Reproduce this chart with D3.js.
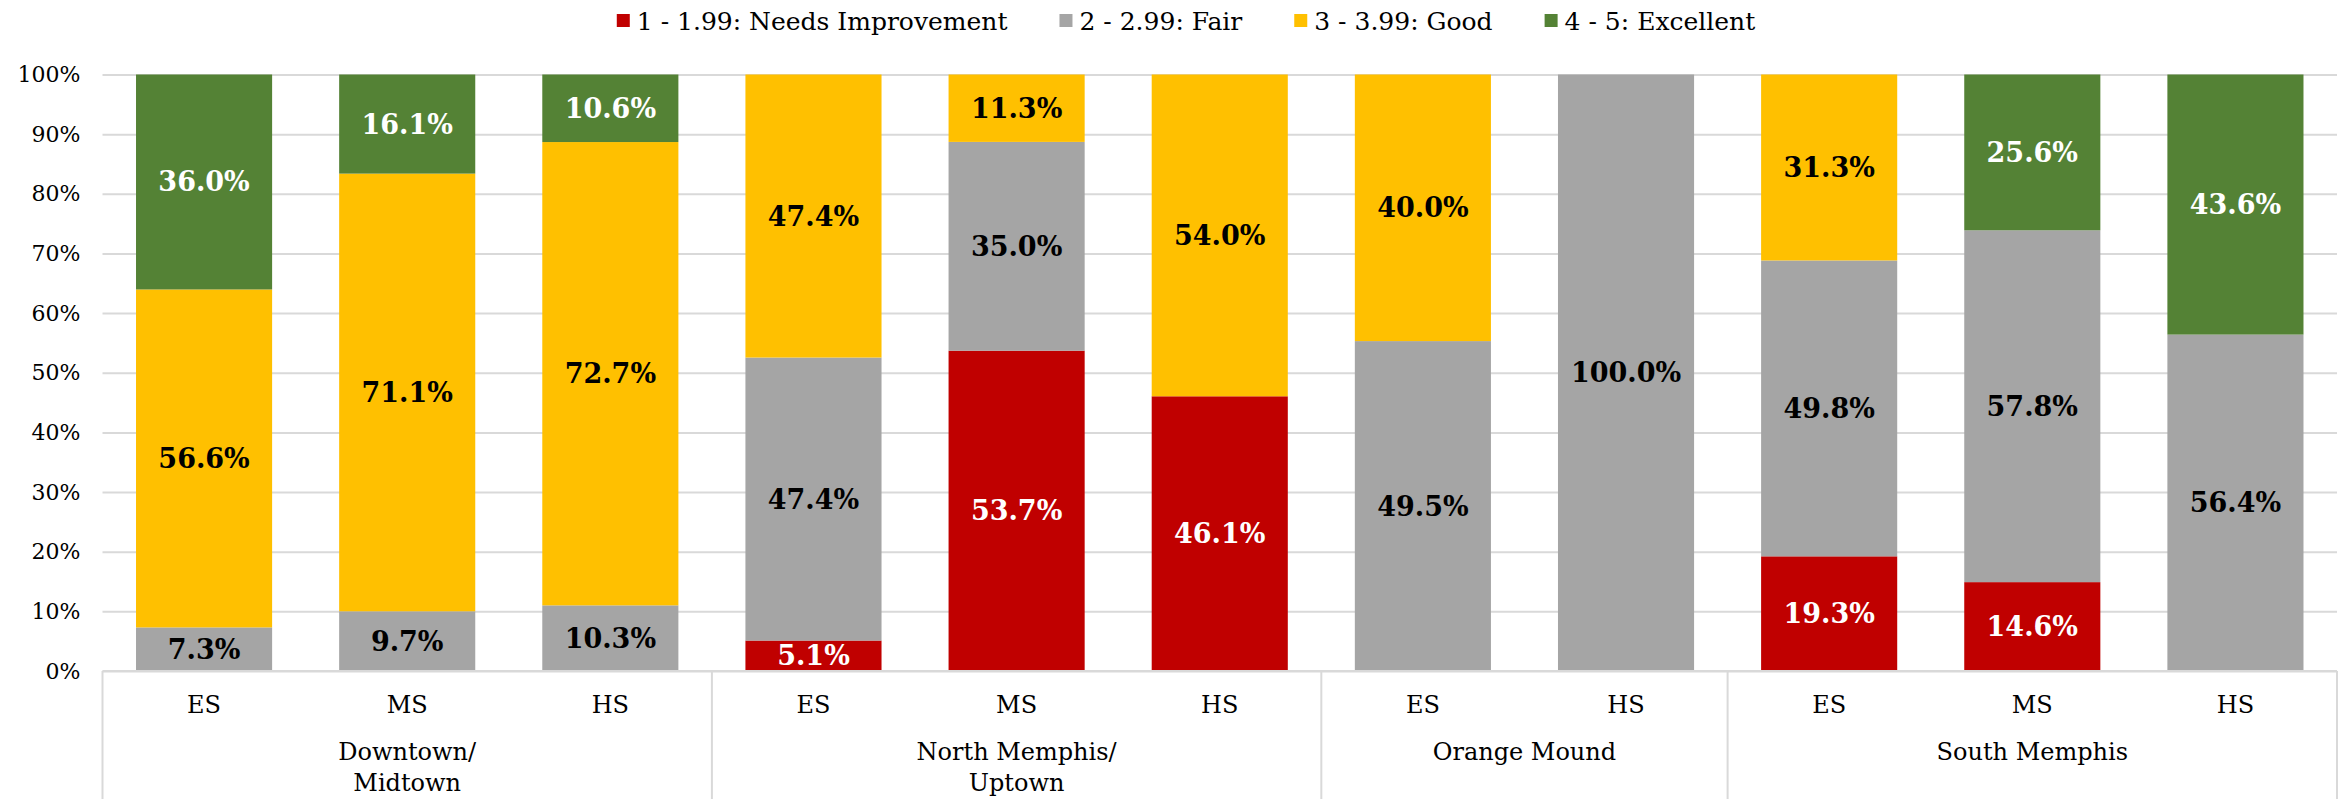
<!DOCTYPE html>
<html>
<head>
<meta charset="utf-8">
<script src="https://cdn.jsdelivr.net/npm/d3@7"></script>
<style>
  body { margin: 0; background: #fff; }
  svg { display: block; }
</style>
</head>
<body>
<div id="chart-container"></div>
<script>
// stacked 100% bars, Memphis areas by school level

const groups = [["Downtown/", "Midtown"], ["North Memphis/", "Uptown"], ["Orange Mound"], ["South Memphis"]];
const levels = ["ES", "MS", "HS", "ES", "MS", "HS", "ES", "HS", "ES", "MS", "HS"];
const groupOf = [0, 0, 0, 1, 1, 1, 2, 2, 3, 3, 3];

const seriesNames = ["1 - 1.99: Needs Improvement", "2 - 2.99: Fair", "3 - 3.99: Good", "4 - 5: Excellent"];
const seriesKeys = ["needs", "fair", "good", "excellent"];
const needsImprovement = [0, 0, 0, 5.1, 53.7, 46.1, 0, 0, 19.3, 14.6, 0];
const fair = [7.3, 9.7, 10.3, 47.4, 35.0, 0, 49.5, 100.0, 49.8, 57.8, 56.4];
const good = [56.6, 71.1, 72.7, 47.4, 11.3, 54.0, 40.0, 0, 31.3, 0, 0];
const excellent = [36.0, 16.1, 10.6, 0, 0, 0, 0, 0, 0, 25.6, 43.6];

const yTicks = [0, 0.1, 0.2, 0.3, 0.4, 0.5, 0.6, 0.7, 0.8, 0.9, 1.0];

const colors = ["#C00000", "#A5A5A5", "#FFC000", "#548235"];
const labelColors = ["#ffffff", "#000000", "#000000", "#ffffff"];

const width = 2346, height = 799;
const margin = { top: 74.5, right: 9, bottom: 128, left: 102.5 };
const chartWidth = width - margin.left - margin.right;
const chartHeight = height - margin.top - margin.bottom;

const serif = "'DejaVu Serif', 'Liberation Serif', serif";

const rows = levels.map((lv, i) => ({
    idx: i,
    needs: needsImprovement[i],
    fair: fair[i],
    good: good[i],
    excellent: excellent[i]
}));

const stacked = d3.stack()
    .keys(seriesKeys)
    .offset(d3.stackOffsetExpand)(rows);

const svg = d3.select("#chart-container")
    .append("svg")
    .attr("width", width)
    .attr("height", height);

const g = svg.append("g")
    .attr("transform", `translate(${margin.left},${margin.top})`);

const xScale = d3.scaleBand()
    .domain(rows.map(d => d.idx))
    .range([0, chartWidth])
    .paddingInner(0.33)
    .paddingOuter(0.165);

const yScale = d3.scaleLinear()
    .domain([0, 1])
    .range([chartHeight, 0]);

// gridlines + y labels
const yAxis = d3.axisLeft(yScale)
    .tickValues(yTicks)
    .tickFormat(d3.format(".0%"))
    .tickSize(-chartWidth)
    .tickPadding(22);

g.append("g")
    .call(yAxis)
    .call(a => a.select(".domain").remove())
    .call(a => a.selectAll(".tick line").attr("stroke", "#d9d9d9").attr("stroke-width", 2))
    .call(a => a.selectAll(".tick text")
        .attr("fill", "#000")
        .style("font-family", serif)
        .style("font-size", "22px"));

// bars
const layer = g.selectAll(".layer")
    .data(stacked)
    .enter()
    .append("g")
    .attr("class", "layer")
    .attr("fill", (d, i) => colors[i]);

layer.selectAll("rect")
    .data(d => d)
    .enter()
    .append("rect")
    .attr("x", d => xScale(d.data.idx))
    .attr("y", d => yScale(d[1]))
    .attr("width", xScale.bandwidth())
    .attr("height", d => yScale(d[0]) - yScale(d[1]));

// value labels
stacked.forEach((s, si) => {
    g.append("g")
        .selectAll("text")
        .data(s.filter(d => d.data[s.key] > 0))
        .enter()
        .append("text")
        .attr("x", d => xScale(d.data.idx) + xScale.bandwidth() / 2)
        .attr("y", d => (yScale(d[0]) + yScale(d[1])) / 2)
        .attr("text-anchor", "middle")
        .attr("dominant-baseline", "central")
        .attr("fill", labelColors[si])
        .style("font-family", serif)
        .style("font-weight", "bold")
        .style("font-size", "27px")
        .text(d => d.data[s.key].toFixed(1) + "%");
});

// category axis box
const step = xScale.step();
const xEdge = i => xScale(i) - xScale.paddingInner() * step / 2;

g.append("line")
    .attr("x1", 0).attr("x2", chartWidth)
    .attr("y1", chartHeight).attr("y2", chartHeight)
    .attr("stroke", "#d9d9d9").attr("stroke-width", 2);

const groupStarts = groups.map((grp, gi) => groupOf.indexOf(gi));
const boundaries = groupStarts.map(i => xEdge(i)).concat([chartWidth]);

g.selectAll(".sep")
    .data(boundaries)
    .enter()
    .append("line")
    .attr("x1", d => d).attr("x2", d => d)
    .attr("y1", chartHeight).attr("y2", height - margin.top)
    .attr("stroke", "#d9d9d9").attr("stroke-width", 2);

g.append("g")
    .selectAll("text")
    .data(levels)
    .enter()
    .append("text")
    .attr("x", (d, i) => xScale(i) + xScale.bandwidth() / 2)
    .attr("y", chartHeight + 34)
    .attr("text-anchor", "middle")
    .attr("dominant-baseline", "central")
    .style("font-family", serif)
    .style("font-size", "24px")
    .text(d => d);

groups.forEach((lines, gi) => {
    const cx = (boundaries[gi] + boundaries[gi + 1]) / 2;
    const t = g.append("text")
        .attr("text-anchor", "middle")
        .style("font-family", serif)
        .style("font-size", "24px");
    lines.forEach((ln, li) => {
        t.append("tspan")
            .attr("x", cx)
            .attr("y", chartHeight + 81 + li * 31)
            .attr("dominant-baseline", "central")
            .text(ln);
    });
});

// legend
const legend = svg.append("g");
let lx = 0;
seriesNames.forEach((name, i) => {
    const item = legend.append("g").attr("transform", `translate(${lx},0)`);
    item.append("rect")
        .attr("x", 0).attr("y", 14)
        .attr("width", 13).attr("height", 13)
        .attr("fill", colors[i]);
    const txt = item.append("text")
        .attr("x", 20).attr("y", 21)
        .attr("dominant-baseline", "central")
        .style("font-family", serif)
        .style("font-size", "25px")
        .text(name);
    lx += 20 + txt.node().getComputedTextLength() + 52;
});
const legendWidth = lx - 52;
legend.attr("transform", `translate(${1186 - legendWidth / 2},0)`);
</script>
</body>
</html>
